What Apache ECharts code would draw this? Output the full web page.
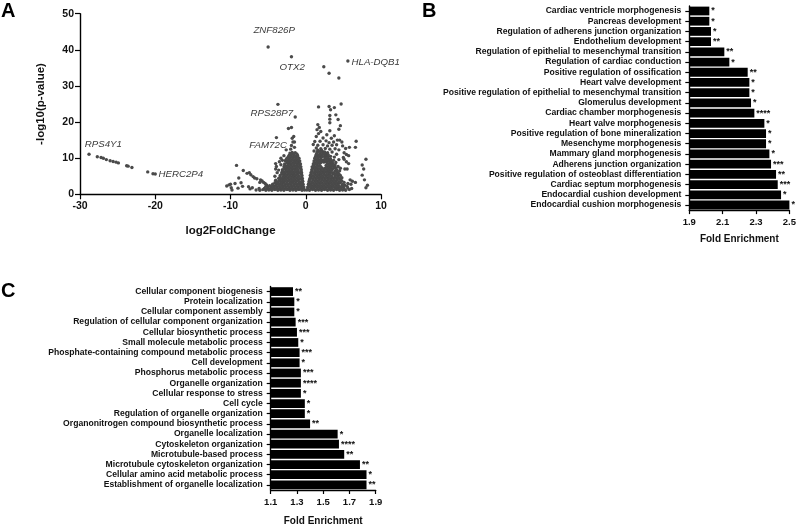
<!DOCTYPE html>
<html>
<head>
<meta charset="utf-8">
<title>Volcano plot and fold enrichment</title>
<script src="https://cdn.jsdelivr.net/npm/echarts@6/dist/echarts.min.js"></script>
<style>
  html, body { margin: 0; padding: 0; background: #fff; }
  #chart { width: 799px; height: 527px; }
</style>
</head>
<body>
<div id="chart"></div>
<script>
// panel A, points
const farLeft = [
  [-28.8,11.1],[-27.7,10.4],[-27.2,10.2],[-26.9,10],[-26.5,9.6],[-26,9.3],[-25.6,9.1],[-25.2,8.9],[-24.9,8.7],
  [-23.8,7.9],[-23.6,7.8],[-23.1,7.4],[-21,6.2],[-20.3,5.7],[-20,5.6],
  [-10.5,2.3],[-10.2,2.6],[-10,2.8],[-9.9,1.8],[-9.8,1.2],[-9.4,3],[-9.2,8],[-9,1.7],[-8.9,4.5],[-8.6,3.2],
  [-8.4,2.2],[-8.3,6.6],[-7.8,5.8],[-7.5,6],[-7.3,5.4],[-7.1,1.8],[-7.4,1.5],[-7,4.9],[-6.8,4.5],[-6.5,4.3],
  [-6,4],[-5.8,3.7],[-5.6,3.3],[-5.4,3],[-5.2,2.6],[-6.2,1.6],[-6.1,3.3],[-7.6,2.1]
]
const topPoints = [
  [-5,40.8],[-1.9,38.1],[5.6,36.9],[2.4,35.3],[3.1,33.5],[4.4,32.2],[-3.7,24.9],[-1.4,21.4],
  [-3.9,15.7],[-2.3,18.2],[-1.9,18.5],[-1.6,16],[-1.8,15.5],[-1.7,14.5],[-1.5,14.5],[-1.9,13.5],[-1.5,13],
  [-2.6,12.3],[-2,12.5],[-4,8.5],[-3.9,7.7],[-4,7],[-3.8,6],[-4.1,5],[-4,3.9],[-3.6,6.7],[-3.3,8.2],
  [-3.1,9.4],[-3.3,10],[-2.9,10.7],[-3.5,9],
  [1.7,24.2],[3.1,24.3],[3.8,24],[4.7,25],[3.3,23.4],[3.2,21.8],[4,22],[3.2,20.8],[4.3,20.7],[3.2,19.8],
  [1.6,19.3],[4.6,19],[1.8,18.5],[4.4,18],[1.5,17.9],[2,17.4],[3.2,17.6],[1.7,16.8],[2.8,16.5],[3.8,16.2],
  [1.4,16],[2.3,15.6],[3.4,15.5],[4.2,15],[4.5,15],[1.2,14.6],[1.9,14.7],[2.7,14.8],[3.1,14.3],[3.7,14.5],
  [4.8,14.5],[1,13.8],[1.6,13.6],[2.3,13.7],[2.9,13.4],[3.5,13.6],[4.1,13.7],[4.9,13.4],[1.4,12.8],[2,12.6],
  [2.6,12.7],[3.2,12.5],[3.9,12.6],[4.4,12.3],[1.1,12],[1.7,11.9],[2.3,11.7],[2.9,11.5],[3.5,11.7],[4.1,11.1],
  [1.4,11],[2,10.8],[2.7,10.7],[3.3,10.5],[3.8,10.3],[4.4,9.6],[4,8.8],[3.7,9.4],[4.3,7.7],[4.6,7.2],
  [8,9.7],[7.5,8.1],[7.7,7],[7.5,5.3],[7.8,4],[8.2,2.5],[8,1.8],[6.6,3.3],[6.2,3.6],[6,2.8],[5.9,4],[5.6,3],
  [6.1,1.6],[5.5,7],[5.2,7],[5.4,9],[5.1,9.7],[5,10.2],[5.7,10.7],[5.4,11],[6.6,13],[6.7,14.7],[5.8,13],
  [5.3,12.7],[5.1,11.5],[5.7,8.5]
]
const massLeft = [
  [-0.15,1.2],[-0.5,1.1],[-0.9,1.3],[-1.3,1.1],[-1.7,1.2],[-2.1,1.1],[-2.5,1.3],[-2.9,1.1],[-3.3,1.2],[-3.7,1.1],[-4.1,1.3],[-4.5,1.1],[-4.9,1.2],[-5.3,1.1],[-5.7,1.3],[-6.1,1.1],[-6.6,1.2],
  [-0.3,1.6],[-0.7,1.6],[-1.1,1.5],[-1.5,1.6],[-1.9,1.6],[-2.3,1.5],[-2.7,1.6],[-3.1,1.6],[-3.5,1.5],[-3.9,1.6],[-4.3,1.6],[-4.7,1.5],[-5.1,1.6],[-5.5,1.6],
  [-0.25,2],[-0.6,2.1],[-1,1.9],[-1.4,2],[-1.8,2.1],[-2.2,1.9],[-2.6,2],[-3,2.1],[-3.4,1.9],[-3.8,2],[-4.2,2.1],[-4.6,1.9],[-5,2],[-5.3,2.2],
  [-0.4,2.4],[-0.8,2.4],[-1.2,2.3],[-1.6,2.4],[-2,2.4],[-2.4,2.3],[-2.8,2.4],[-3.2,2.4],[-3.6,2.3],[-4,2.4],[-4.4,2.4],[-4.8,2.4],
  [-0.35,2.8],[-0.7,2.9],[-1.1,2.7],[-1.5,2.8],[-1.9,2.9],[-2.3,2.7],[-2.7,2.8],[-3.1,2.9],[-3.5,2.7],[-3.9,2.8],[-4.4,2.8],
  [-0.45,3.2],[-0.9,3.2],[-1.3,3.1],[-1.7,3.2],[-2.1,3.2],[-2.5,3.1],[-2.9,3.2],[-3.3,3.2],[-3.7,3.1],[-4.1,3.2],
  [-0.4,3.6],[-0.8,3.5],[-1.2,3.7],[-1.6,3.6],[-2,3.5],[-2.4,3.7],[-2.8,3.6],[-3.2,3.5],[-3.6,3.6],[-3.9,3.4],
  [-0.5,4],[-1,4],[-1.4,3.9],[-1.8,4],[-2.2,4],[-2.6,3.9],[-3,4],[-3.4,4],
  [-0.45,4.4],[-0.8,4.3],[-1.2,4.5],[-1.6,4.4],[-2,4.3],[-2.4,4.5],[-2.8,4.4],[-3.2,4.3],[-3.6,4.4],
  [-0.55,4.8],[-1,4.8],[-1.4,4.7],[-1.8,4.8],[-2.2,4.8],[-2.6,4.7],[-3,4.8],[-3.4,4.8],
  [-0.5,5.2],[-0.9,5.1],[-1.3,5.3],[-1.7,5.2],[-2.1,5.1],[-2.5,5.3],[-2.9,5.2],[-3.4,5.2],
  [-0.6,5.6],[-1.1,5.6],[-1.5,5.5],[-1.9,5.6],[-2.3,5.6],[-2.7,5.5],[-3.1,5.6],
  [-0.55,6],[-0.9,5.9],[-1.3,6.1],[-1.7,6],[-2.1,5.9],[-2.5,6.1],[-2.9,6],[-3.2,5.9],
  [-0.65,6.4],[-1.1,6.4],[-1.5,6.3],[-1.9,6.4],[-2.3,6.4],[-2.7,6.3],[-3.1,6.4],
  [-0.6,6.8],[-1,6.7],[-1.4,6.9],[-1.8,6.8],[-2.2,6.7],[-2.6,6.9],[-3.1,6.8],
  [-0.7,7.2],[-1.2,7.2],[-1.6,7.1],[-2,7.2],[-2.4,7.2],[-2.8,7.1],
  [-0.65,7.6],[-1,7.5],[-1.4,7.7],[-1.8,7.6],[-2.2,7.5],[-2.6,7.7],[-2.9,7.6],
  [-0.8,8],[-1.2,8],[-1.6,7.9],[-2,8],[-2.4,8],[-2.8,7.9],
  [-0.7,8.4],[-1.1,8.3],[-1.5,8.5],[-1.9,8.4],[-2.3,8.3],[-2.8,8.4],
  [-0.9,8.8],[-1.3,8.8],[-1.7,8.7],[-2.1,8.8],[-2.5,8.8],
  [-0.8,9.2],[-1.2,9.1],[-1.6,9.3],[-2,9.2],[-2.4,9.1],[-2.7,9.3],
  [-1,9.6],[-1.4,9.6],[-1.8,9.5],[-2.2,9.6],[-2.6,9.6],
  [-0.9,10],[-1.3,9.9],[-1.7,10.1],[-2.1,10],[-2.5,10],
  [-1.1,10.4],[-1.5,10.4],[-1.9,10.3],[-2.3,10.4],
  [-1.1,10.8],[-1.5,10.7],[-1.9,10.9],[-2.2,10.8],[-1.4,11.5],[-1.8,11.6],[-2.1,11.4],[-1.2,11.2],[-1.6,11.2],[-2,11.1]
]
const massRight = [
  [0.15,1.2],[0.5,1.1],[0.9,1.3],[1.3,1.1],[1.7,1.2],[2.1,1.1],[2.5,1.3],[2.9,1.1],[3.3,1.2],[3.7,1.1],[4.1,1.3],[4.5,1.1],[4.9,1.2],[5.3,1.1],[5.8,1.3],
  [0.3,1.6],[0.7,1.6],[1.1,1.5],[1.5,1.6],[1.9,1.6],[2.3,1.5],[2.7,1.6],[3.1,1.6],[3.5,1.5],[3.9,1.6],[4.3,1.6],[4.7,1.5],[5.1,1.6],[5.6,1.7],
  [0.25,2],[0.6,2.1],[1,1.9],[1.4,2],[1.8,2.1],[2.2,1.9],[2.6,2],[3,2.1],[3.4,1.9],[3.8,2],[4.2,2.1],[4.6,1.9],[5,2],[5.5,2.2],
  [0.4,2.4],[0.8,2.4],[1.2,2.3],[1.6,2.4],[2,2.4],[2.4,2.3],[2.8,2.4],[3.2,2.4],[3.6,2.3],[4,2.4],[4.4,2.4],[4.8,2.3],[5.2,2.5],
  [0.35,2.8],[0.7,2.9],[1.1,2.7],[1.5,2.8],[1.9,2.9],[2.3,2.7],[2.7,2.8],[3.1,2.9],[3.5,2.7],[3.9,2.8],[4.3,2.9],[4.9,2.7],
  [0.45,3.2],[0.9,3.2],[1.3,3.1],[1.7,3.2],[2.1,3.2],[2.5,3.1],[2.9,3.2],[3.3,3.2],[3.7,3.1],[4.1,3.2],[4.6,3.2],[5.1,3.3],
  [0.45,3.6],[0.8,3.5],[1.2,3.7],[1.6,3.6],[2,3.5],[2.4,3.7],[2.8,3.6],[3.2,3.5],[3.6,3.6],[4,3.7],[4.4,3.5],[4.8,3.7],
  [0.5,4],[1,4],[1.4,3.9],[1.8,4],[2.2,4],[2.6,3.9],[3,4],[3.4,4],[3.8,3.9],[4.2,4],[4.6,4.1],
  [0.55,4.4],[0.9,4.3],[1.3,4.5],[1.7,4.4],[2.1,4.3],[2.5,4.5],[2.9,4.4],[3.3,4.3],[3.7,4.4],[4.1,4.5],[4.5,4.4],[4.8,4.6],
  [0.65,4.8],[1.1,4.8],[1.5,4.7],[1.9,4.8],[2.3,4.8],[2.7,4.7],[3.1,4.8],[3.5,4.8],[3.9,4.7],[4.3,4.8],
  [0.6,5.2],[1,5.1],[1.4,5.3],[1.8,5.2],[2.2,5.1],[2.6,5.3],[3,5.2],[3.4,5.1],[3.9,5.2],[4.2,5.3],[4.6,5.2],
  [0.75,5.6],[1.2,5.6],[1.6,5.5],[2,5.6],[2.4,5.6],[2.8,5.5],[3.2,5.6],[3.6,5.6],[4,5.6],[4.4,5.7],
  [0.7,6],[1.1,5.9],[1.5,6.1],[1.9,6],[2.3,5.9],[2.7,6.1],[3.1,6],[3.7,5.9],[3.4,6.1],[4.2,6.1],
  [0.85,6.4],[1.3,6.4],[1.7,6.3],[2.1,6.4],[2.5,6.4],[2.9,6.3],[3.3,6.4],[3.9,6.4],[4.5,6.5],
  [0.8,6.8],[1.2,6.7],[1.6,6.9],[2,6.8],[2.4,6.7],[2.8,6.9],[3.5,6.8],[3.1,6.8],[4.1,6.8],
  [0.95,7.2],[1.4,7.2],[1.8,7.1],[2.2,7.2],[2.6,7.2],[3,7.1],[3.3,7.2],[3.7,7.2],[4,7.3],
  [0.85,7.6],[1.2,7.5],[1.6,7.7],[2,7.6],[2.8,7.5],[3.1,7.7],[3.4,7.6],[3.8,7.7],
  [1.05,8],[1.5,8],[1.9,7.9],[2.7,8],[3.1,8],[3.5,8],[3.9,8.1],
  [1,8.4],[1.4,8.3],[1.8,8.5],[2.9,8.4],[3.3,8.3],[3.6,8.5],
  [1.15,8.8],[1.6,8.8],[2,8.8],[2.4,8.9],[2.8,8.8],[3.2,8.8],[3.5,8.9],
  [1.1,9.2],[1.5,9.1],[1.9,9.3],[2.3,9.2],[2.7,9.1],[3,9.3],[3.3,9.2],
  [1.3,9.6],[1.7,9.6],[2.1,9.5],[2.5,9.6],[2.9,9.6],[3.3,9.7],
  [1.2,10],[1.6,9.9],[2,10.1],[2.6,10],[3,10],
  [1.3,10.4],[1.7,10.4],[2.1,10.3],[2.5,10.4],[2.9,10.3],
  [1.4,10.8],[1.8,10.8],[2.2,10.7],[2.6,11],[3,10.9],
  [1.5,11.2],[1.9,11.2],[2.3,11.2],[2.7,11.3],
  [1.5,11.6],[2,11.6],[2.5,11.7],[1.6,12.2],[2.1,12.2]
]
const geneNames = ['ZNF826P', 'OTX2', 'HLA-DQB1', 'RPS28P7', 'FAM72C', 'RPS4Y1', 'HERC2P4']
const geneX = [-4.2, -1.8, 9.3, -4.5, -5, -26.9, -16.6]
const geneY = [45.5, 35.1, 36.6, 22.5, 13.7, 13.9, 5.5]

// panel B
const termsB = [
  'Cardiac ventricle morphogenesis', 'Pancreas development', 'Regulation of adherens junction organization',
  'Endothelium development', 'Regulation of epithelial to mesenchymal transition', 'Regulation of cardiac conduction',
  'Positive regulation of ossification', 'Heart valve development', 'Positive regulation of epithelial to mesenchymal transition',
  'Glomerulus development', 'Cardiac chamber morphogenesis', 'Heart valve morphogenesis',
  'Positive regulation of bone mineralization', 'Mesenchyme morphogenesis', 'Mammary gland morphogenesis',
  'Adherens junction organization', 'Positive regulation of osteoblast differentiation', 'Cardiac septum morphogenesis',
  'Endocardial cushion development', 'Endocardial cushion morphogenesis'
]
const foldB = [2.02, 2.02, 2.03, 2.03, 2.11, 2.14, 2.25, 2.26, 2.26, 2.27, 2.29, 2.35, 2.36, 2.36, 2.38, 2.39, 2.42, 2.43, 2.45, 2.5]
const starsB = ['*', '*', '*', '**', '**', '*', '**', '*', '*', '*', '****', '*', '*', '*', '*', '***', '**', '***', '*', '*']
const ticksB = [1.9, 2.1, 2.3, 2.5]

// panel C
const termsC = [
  'Cellular component biogenesis', 'Protein localization', 'Cellular component assembly',
  'Regulation of cellular component organization', 'Cellular biosynthetic process', 'Small molecule metabolic process',
  'Phosphate-containing compound metabolic process', 'Cell development', 'Phosphorus metabolic process',
  'Organelle organization', 'Cellular response to stress', 'Cell cycle', 'Regulation of organelle organization',
  'Organonitrogen compound biosynthetic process', 'Organelle localization', 'Cytoskeleton organization',
  'Microtubule-based process', 'Microtubule cytoskeleton organization', 'Cellular amino acid metabolic process',
  'Establishment of organelle localization'
]
const foldC = [1.27, 1.28, 1.28, 1.29, 1.3, 1.31, 1.32, 1.32, 1.33, 1.33, 1.33, 1.36, 1.36, 1.4, 1.61, 1.62, 1.66, 1.78, 1.83, 1.83]
const starsC = ['**', '*', '*', '***', '***', '*', '***', '*', '***', '****', '*', '*', '*', '**', '*', '****', '**', '**', '*', '**']
const ticksC = [1.1, 1.3, 1.5, 1.7, 1.9]

const FONT = '"Liberation Sans", Arial, sans-serif'
const axisLine = { show: true, onZero: false, lineStyle: { color: '#000', width: 1.4 } }
const axisTick = { show: true, length: 4, lineStyle: { color: '#000', width: 1.2 } }
const tickLabel = { color: '#111', fontFamily: FONT, fontWeight: 'bold', fontSize: 9.5 }

function enrichX(gridIndex, min, max, ticks, gap) {
  return {
    type: 'value', gridIndex, min, max,
    splitLine: { show: false },
    axisLine,
    axisTick: { ...axisTick, customValues: ticks },
    axisLabel: { ...tickLabel, margin: 7, showMinLabel: true, showMaxLabel: true, customValues: ticks, formatter: v => v.toFixed(1) },
    name: 'Fold Enrichment', nameLocation: 'middle', nameGap: gap,
    nameTextStyle: { color: '#111', fontFamily: FONT, fontWeight: 'bold', fontSize: 10 }
  }
}

function enrichY(gridIndex, terms) {
  return {
    type: 'category', gridIndex, data: terms, inverse: true,
    axisLine,
    axisTick: { ...axisTick, alignWithLabel: true },
    axisLabel: { ...tickLabel, margin: 8, interval: 0, fontSize: 8.6 }
  }
}

function enrichBars(axisIndex, values, stars) {
  return {
    type: 'bar', xAxisIndex: axisIndex, yAxisIndex: axisIndex,
    data: values, barCategoryGap: '14%', itemStyle: { color: '#000' },
    label: {
      show: true, position: 'right', distance: 2, color: '#111',
      fontFamily: FONT, fontWeight: 'bold', fontSize: 9,
      formatter: p => stars[p.dataIndex]
    }
  }
}

const chart = echarts.init(document.getElementById('chart'))
chart.setOption({
  animation: false,
  backgroundColor: '#fff',
  graphic: [
    { type: 'text', left: 1, top: 1, style: { text: 'A', fontFamily: FONT, fontWeight: 'bold', fontSize: 20, fill: '#000' } },
    { type: 'text', left: 422, top: 1, style: { text: 'B', fontFamily: FONT, fontWeight: 'bold', fontSize: 20, fill: '#000' } },
    { type: 'text', left: 1, top: 281, style: { text: 'C', fontFamily: FONT, fontWeight: 'bold', fontSize: 20, fill: '#000' } }
  ],
  grid: [
    { left: 80, top: 13.7, width: 301, height: 180.6 },
    { left: 689.3, top: 5.9, width: 103, height: 204.2 },
    { left: 270.7, top: 286.5, width: 105, height: 208.7 }
  ],
  xAxis: [
    {
      type: 'value', gridIndex: 0, min: -30, max: 10, interval: 10,
      splitLine: { show: false }, axisLine,
      axisTick: { ...axisTick, length: 5 },
      axisLabel: { ...tickLabel, margin: 6, fontSize: 10.5 },
      name: 'log2FoldChange', nameLocation: 'middle', nameGap: 31,
      nameTextStyle: { color: '#111', fontFamily: FONT, fontWeight: 'bold', fontSize: 11.5 }
    },
    enrichX(1, 1.9, 2.5, ticksB, 24),
    enrichX(2, 1.1, 1.9, ticksC, 26)
  ],
  yAxis: [
    {
      type: 'value', gridIndex: 0, min: 0, max: 50, interval: 10,
      splitLine: { show: false }, axisLine,
      axisTick: { ...axisTick, length: 5 },
      axisLabel: { ...tickLabel, margin: 6, fontSize: 10.5 },
      name: '-log10(p-value)', nameLocation: 'middle', nameGap: 33,
      nameTextStyle: { color: '#111', fontFamily: FONT, fontWeight: 'bold', fontSize: 11.5 }
    },
    enrichY(1, termsB),
    enrichY(2, termsC)
  ],
  series: [
    {
      type: 'scatter', xAxisIndex: 0, yAxisIndex: 0, symbolSize: 3.4,
      itemStyle: { color: '#4a4a4a', opacity: 1 },
      data: [...farLeft, ...topPoints, ...massLeft, ...massRight]
    },
    {
      type: 'scatter', xAxisIndex: 0, yAxisIndex: 0, symbolSize: 0,
      data: geneNames.map((n, i) => [geneX[i], geneY[i], n]),
      label: {
        show: true, position: 'inside', color: '#000',
        fontFamily: FONT, fontStyle: 'italic', fontSize: 9.7,
        formatter: p => p.value[2]
      }
    },
    enrichBars(1, foldB, starsB),
    enrichBars(2, foldC, starsC)
  ]
})
</script>
</body>
</html>
